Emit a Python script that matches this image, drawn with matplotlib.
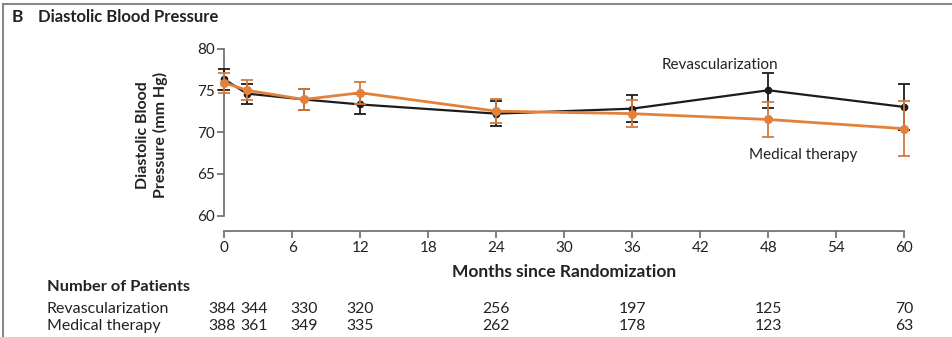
import numpy as np
import matplotlib.pyplot as plt
from matplotlib.lines import Line2D

plt.rcParams['font.family'] = ['Lato', 'DejaVu Sans']

# mean diastolic pressure by visit month, with error bar half-widths
months = [0, 2, 7, 12, 24, 36, 48, 60]
revasc = [76.3, 74.6, 73.9, 73.3, 72.2, 72.8, 75.0, 73.0]
revasc_err = [1.3, 1.2, 1.3, 1.2, 1.5, 1.6, 2.1, 2.8]
medical = [75.9, 75.0, 73.9, 74.7, 72.5, 72.2, 71.5, 70.4]
medical_err = [1.2, 1.2, 1.3, 1.3, 1.4, 1.6, 2.1, 3.3]

# numbers at risk table
table_cols = [-0.2, 2.6, 7, 12, 24, 36, 48, 60]
n_revasc = [384, 344, 330, 320, 256, 197, 125, 70]
n_medical = [388, 361, 349, 335, 262, 178, 123, 63]

black = '#1c1c1c'
orange = '#e2813a'
axis_gray = '#6a6a6a'
txt = '#222222'

fig = plt.figure(figsize=(9.53, 3.37), dpi=100)
ax = fig.add_axes([0.2354, 0.3605, 0.7135, 0.4955])

ax.errorbar(months, revasc, yerr=revasc_err, color=black, lw=1.6, marker='o',
            ms=4.5, capsize=4, elinewidth=1.3, capthick=1.3, clip_on=False, zorder=3)
ax.errorbar(months, medical, yerr=medical_err, color=orange, lw=2.0, marker='o',
            ms=5.5, capsize=4, elinewidth=1.3, capthick=1.3, ecolor='#d27a3c',
            clip_on=False, zorder=4)

ax.set_xlim(0, 60)
ax.set_ylim(60, 80)
ax.set_xticks(range(0, 61, 6))
ax.set_yticks(range(60, 81, 5))
for s in ['top', 'right']:
    ax.spines[s].set_visible(False)
ax.spines['bottom'].set_position(('outward', 11))
for s in ['left', 'bottom']:
    ax.spines[s].set_color(axis_gray)
    ax.spines[s].set_linewidth(1.2)
ax.tick_params(colors=axis_gray, width=1.2, length=5, labelsize=11,
               labelcolor=txt, pad=2)

ax.text(43.75, 78.05, 'Revascularization', ha='center', va='center',
        fontsize=11, color=txt)
ax.text(51.1, 67.2, 'Medical therapy', ha='center', va='center',
        fontsize=11, color=txt)

ax.text(30, -0.34, 'Months since Randomization', transform=ax.get_xaxis_transform(),
        ha='center', va='center', fontsize=12.5, fontweight='bold', color=txt)

fig.text(0.1595, 0.5994, 'Diastolic Blood\nPressure (mm Hg)', rotation=90,
         ha='center', va='center', multialignment='center', linespacing=1.3,
         fontsize=11.5, fontweight='bold', color=txt)

fig.text(0.012, 0.95, 'B', fontsize=12.5, fontweight='bold', va='center', color=txt)
fig.text(0.040, 0.95, 'Diastolic Blood Pressure', fontsize=12, fontweight='bold',
         va='center', color=txt)

# patients table under the axis
xt = ax.get_xaxis_transform()
fig.text(0.049, 1 - 287 / 337, 'Number of Patients', fontsize=11.8, fontweight='bold',
         va='center', color=txt)
for label, counts, yy in [('Revascularization', n_revasc, -0.56),
                          ('Medical therapy', n_medical, -0.662)]:
    fig.text(0.049, ax.transAxes.transform((0, yy))[1] / fig.bbox.height, label,
             fontsize=11.5, va='center', color=txt)
    for c, n in zip(table_cols, counts):
        ax.text(c, yy, str(n), transform=xt, ha='center', va='center',
                fontsize=11.3, color=txt)

# panel frame along the top and left edges
fig.add_artist(Line2D([0.003, 1], [1 - 3.5 / 337] * 2, color='#888888', lw=1.5))
fig.add_artist(Line2D([0.003, 0.003], [0, 1 - 3.5 / 337], color='#888888', lw=1.5))

fig.savefig('out.png', dpi=100)
